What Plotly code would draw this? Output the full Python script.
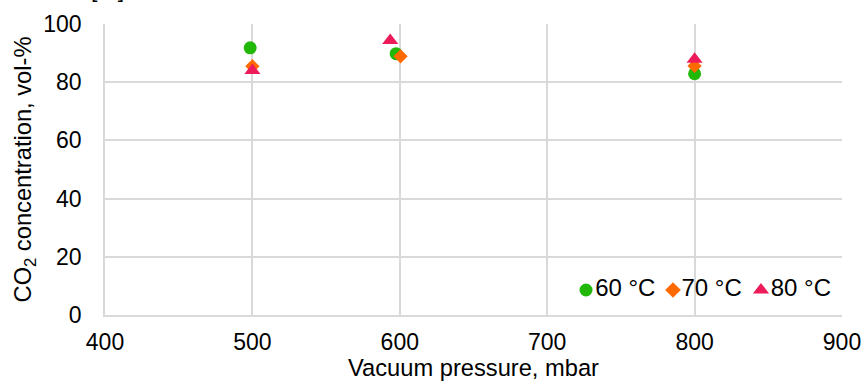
import plotly.graph_objects as go

# Vacuum pressure (mbar) and CO2 concentration (vol-%) per desorption temperature
p_60 = [498.5, 597.5, 800]
c_60 = [91.8, 89.8, 82.9]

p_70 = [500, 600.5, 800]
c_70 = [85.5, 88.9, 85.6]

p_80 = [500, 593.5, 800]
c_80 = [84.0, 94.3, 87.9]

labels = ["60 °C", "70 °C", "80 °C"]
colors = ["#21B80A", "#FF6A00", "#EE1B5B"]
symbols = ["circle", "diamond", "triangle-up"]
sizes = [13, 11, 14]
legend_sizes = [13, 12, 14]

x_ticks = [400, 500, 600, 700, 800, 900]
y_ticks = [0, 20, 40, 60, 80, 100]

FONT = "Liberation Sans, Arial, sans-serif"
GRID = "#D9D9D9"

# plot area in pixels (left, top, right, bottom)
L, T, R, B = 105, 24, 842, 315
W, H = 863, 390

fig = go.Figure()
for xs, ys, name, col, sym, sz in zip(
    [p_60, p_70, p_80], [c_60, c_70, c_80], labels, colors, symbols, sizes
):
    fig.add_trace(
        go.Scatter(
            x=xs,
            y=ys,
            mode="markers",
            name=name,
            showlegend=False,
            marker=dict(color=col, symbol=sym, size=sz, line=dict(width=0)),
        )
    )

# legend row inside the lower right corner, on a pixel-scaled overlay axis
legend_px = [586, 673, 761]
legend_py = 290
for px, name, col, sym, sz in zip(legend_px, labels, colors, symbols, legend_sizes):
    fig.add_trace(
        go.Scatter(
            x=[px - L],
            y=[B - legend_py],
            xaxis="x2",
            yaxis="y2",
            mode="markers+text",
            text=[name],
            textposition="middle right",
            textfont=dict(size=24, color="#000000", family=FONT),
            cliponaxis=False,
            showlegend=False,
            hoverinfo="skip",
            marker=dict(color=col, symbol=sym, size=sz, line=dict(width=0)),
        )
    )

# unit label of the panel above, cut by the top edge
fig.add_annotation(
    text="[%]",
    xref="paper",
    yref="paper",
    x=(107 - L) / (R - L),
    y=1 + (T - 4) / (B - T),
    xanchor="center",
    yanchor="bottom",
    showarrow=False,
    font=dict(size=23, color="#000000"),
)

fig.update_layout(
    width=W,
    height=H,
    margin=dict(l=L, r=W - R, t=T, b=H - B, autoexpand=False),
    paper_bgcolor="white",
    plot_bgcolor="white",
    font=dict(family=FONT, size=23, color="#000000"),
    showlegend=False,
    xaxis=dict(
        range=[400, 900],
        tickvals=x_ticks,
        tickfont=dict(size=23),
        showgrid=True,
        gridcolor=GRID,
        gridwidth=1.5,
        zeroline=False,
        showline=True,
        linecolor=GRID,
        linewidth=1.5,
        ticks="outside",
        ticklen=6,
        tickcolor="rgba(0,0,0,0)",
        title=dict(text="Vacuum pressure, mbar", standoff=5, font=dict(size=23.7)),
    ),
    yaxis=dict(
        range=[0, 100],
        tickvals=y_ticks,
        tickfont=dict(size=23),
        showgrid=True,
        gridcolor=GRID,
        gridwidth=1.5,
        zeroline=False,
        showline=True,
        linecolor=GRID,
        linewidth=1.5,
        ticks="outside",
        ticklen=17,
        tickcolor="rgba(0,0,0,0)",
        title=dict(
            text="CO<sub>2</sub> concentration, vol-%",
            standoff=5,
            font=dict(size=23.7),
        ),
    ),
    xaxis2=dict(
        overlaying="x",
        range=[0, R - L],
        visible=False,
        fixedrange=True,
    ),
    yaxis2=dict(
        overlaying="y",
        range=[0, B - T],
        visible=False,
        fixedrange=True,
    ),
)

fig.write_html("out.html")
